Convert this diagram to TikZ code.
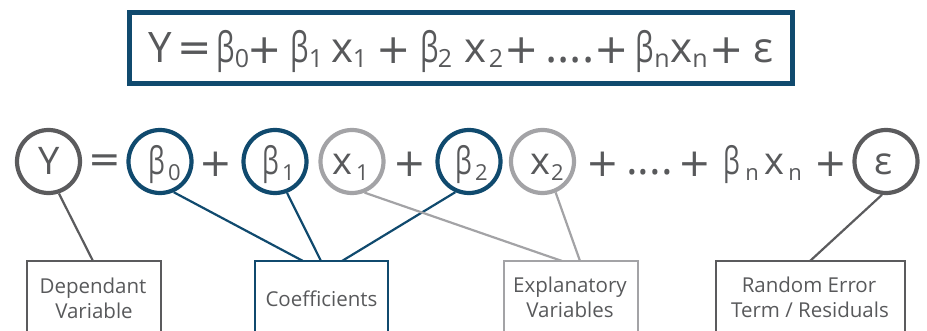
\documentclass[tikz,border=0pt]{standalone}
\usepackage{fontspec}
\setmainfont{Open Sans}
\newfontfamily\opfont{DejaVu Sans}
\definecolor{navy}{RGB}{16,74,110}
\definecolor{dgray}{RGB}{91,91,93}
\definecolor{lgray}{RGB}{163,163,166}
\definecolor{tgray}{RGB}{88,89,91}
\newcommand{\nb}{\scalebox{0.7}[1]{β}}
\newcommand{\subbx}[1]{\makebox[0.42em]{#1}}
\newcommand{\opbx}[1]{\makebox[0.6em]{#1}}
\tikzset{
  big/.style={anchor=base,inner sep=0,text=tgray,font=\fontsize{42}{42}\selectfont},
  bsub/.style={anchor=base,inner sep=0,text=tgray,font=\fontsize{25}{25}\selectfont},
  bop/.style={anchor=center,inner sep=0,text=tgray,font=\opfont\fontsize{41}{41}\selectfont},
  bdots/.style={anchor=base,inner sep=0,text=tgray,font=\fontsize{46}{46}\selectfont},
  mid/.style={anchor=base,inner sep=0,text=tgray,font=\fontsize{38}{38}\selectfont},
  msub/.style={anchor=base,inner sep=0,text=tgray,font=\fontsize{22}{22}\selectfont},
  mop/.style={anchor=center,inner sep=0,text=tgray,font=\opfont\fontsize{39}{39}\selectfont},
  mdots/.style={anchor=base,inner sep=0,text=tgray,font=\fontsize{44}{44}\selectfont},
  ring/.style={circle,draw=#1,line width=4.2pt,minimum size=63pt,inner sep=0},
  lbox/.style={rectangle,draw=#1,line width=2.5pt,anchor=north,outer sep=0,minimum height=90pt},
  lbl/.style={anchor=base,inner sep=0,text=tgray,font=\fontsize{20.5}{20.5}\selectfont},
  conn/.style={draw=#1,line width=2.2pt},
}
\begin{document}
\begin{tikzpicture}[x=1pt,y=-1pt]
\useasboundingbox (0,0) rectangle (927,331);
\clip (0,0) rectangle (927,331);
% top formula box
\node[draw=navy,line width=5pt,minimum width=663pt,minimum height=71pt,inner sep=0,outer sep=0] (top) at (461,48) {};
\node[big] (tY) at (160.5,63) {Y};
\node[bop] (tEq) at (195,52.5) {\opbx{=}};
\node[big] (tB0) at (226,63) {\nb};
\node[bsub] (tB0s) at (242,68) {\subbx{0}};
\node[bop] (tP1) at (265,51) {\opbx{+}};
\node[big] (tB1) at (299.5,63) {\nb};
\node[bsub] (tB1s) at (316,68) {\subbx{1}};
\node[big] (tX1) at (342.5,63) {x};
\node[bsub] (tX1s) at (360,68) {\subbx{1}};
\node[bop] (tP2) at (393.5,51) {\opbx{+}};
\node[big] (tB2) at (429.5,63) {\nb};
\node[bsub] (tB2s) at (445,68) {\subbx{2}};
\node[big] (tX2) at (475.5,63) {x};
\node[bsub] (tX2s) at (496,68) {\subbx{2}};
\node[bop] (tP3) at (521.5,51) {\opbx{+}};
\node[bdots] (tDots) at (570,63) {....};
\node[bop] (tP4) at (611.5,51) {\opbx{+}};
\node[big] (tBn) at (645,63) {\nb};
\node[bsub] (tBns) at (662,68) {\subbx{n}};
\node[big] (tXn) at (681.5,63) {x};
\node[bsub] (tXns) at (700,68) {\subbx{n}};
\node[bop] (tP5) at (726.5,51) {\opbx{+}};
\node[big] (tE) at (763,63) {ε};
% circles
\node[ring=dgray] (cY) at (48.5,161.5) {};
\node[ring=navy] (cB0) at (160,161.5) {};
\node[ring=navy] (cB1) at (275,161.5) {};
\node[ring=lgray] (cX1) at (352,161.5) {};
\node[ring=navy] (cB2) at (469,161.5) {};
\node[ring=lgray] (cX2) at (542.5,161.5) {};
\node[ring=dgray] (cE) at (886,161.5) {};
% second row text
\node[mid] (mY) at (49.5,175) {Y};
\node[mop] (mEq) at (104.5,164) {\opbx{=}};
\node[mid] (mB0) at (157,175) {\nb};
\node[msub] (mB0s) at (174.5,181) {\subbx{0}};
\node[mop] (mP1) at (215.5,164.5) {\opbx{+}};
\node[mid] (mB1) at (270.5,175) {\nb};
\node[msub] (mB1s) at (288.5,181) {\subbx{1}};
\node[mid] (mX1) at (342.5,175) {x};
\node[msub] (mX1s) at (362.5,181) {\subbx{1}};
\node[mop] (mP2) at (409.5,164.5) {\opbx{+}};
\node[mid] (mB2) at (464,175) {\nb};
\node[msub] (mB2s) at (481.5,181) {\subbx{2}};
\node[mid] (mX2) at (540,175) {x};
\node[msub] (mX2s) at (557.5,181) {\subbx{2}};
\node[mop] (mP3) at (603,164.5) {\opbx{+}};
\node[mdots] (mDots) at (649.5,175) {....};
\node[mop] (mP4) at (695,164.5) {\opbx{+}};
\node[mid] (mBn) at (731.5,175) {\nb};
\node[msub] (mBns) at (752,181) {\subbx{n}};
\node[mid] (mXn) at (774,175) {x};
\node[msub] (mXns) at (795,181) {\subbx{n}};
\node[mop] (mP5) at (830.5,164.5) {\opbx{+}};
\node[mid] (mE) at (884,175) {ε};
% label boxes
\node[lbox=dgray,minimum width=134pt] (bDep) at (94,261) {};
\node[lbox=navy,minimum width=133pt] (bCoef) at (321.5,261) {};
\node[lbox=lgray,minimum width=134pt] (bExp) at (571,261) {};
\node[lbox=dgray,minimum width=189pt] (bRes) at (810.5,261) {};
\node[lbl] (lDep1) at (93,294) {Dependant};
\node[lbl] (lDep2) at (94,319) {Variable};
\node[lbl] (lCoef) at (321.5,307) {Coefficients};
\node[lbl] (lExp1) at (570,293) {Explanatory};
\node[lbl] (lExp2) at (570,318) {Variables};
\node[lbl] (lRes1) at (809,293) {Random Error};
\node[lbl] (lRes2) at (810,318) {Term / Residuals};
% connectors
\path[conn=dgray] (cY.-72) -- ([xshift=-1pt]bDep.north);
\path[conn=navy] (cB0.-66) -- ([xshift=-18.5pt]bCoef.north);
\path[conn=navy] (cB1.-69) -- ([xshift=-0.5pt]bCoef.north);
\path[conn=navy] (cB2.-114) -- ([xshift=20.5pt]bCoef.north);
\path[conn=lgray] (cX1.-68) -- ([xshift=-9pt]bExp.north);
\path[conn=lgray] (cX2.-67) -- ([xshift=9pt]bExp.north);
\path[conn=dgray] (cE.-97) -- ([xshift=-0.5pt]bRes.north);
\end{tikzpicture}
\end{document}
